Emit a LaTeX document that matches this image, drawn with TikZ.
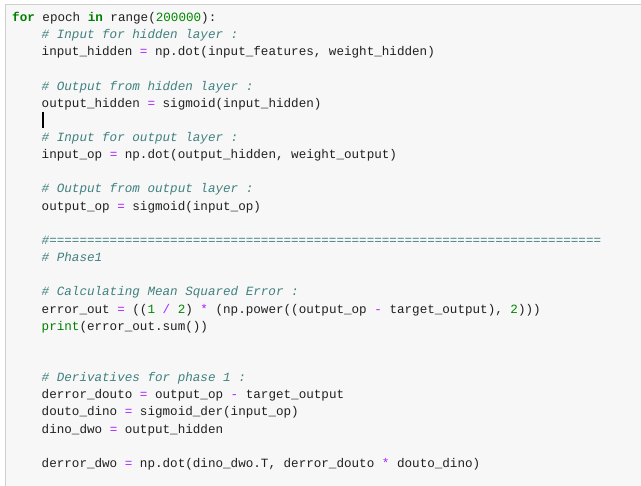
\documentclass[tikz,border=0pt]{standalone}
\usepackage{fontspec}
\setmonofont{Liberation Mono}
\definecolor{kwc}{HTML}{008000}
\definecolor{numc}{HTML}{008800}
\definecolor{opc}{HTML}{AA22FF}
\definecolor{cmc}{HTML}{408080}
\definecolor{bgc}{HTML}{F7F7F7}
\definecolor{bdc}{HTML}{CFCFCF}
\definecolor{txc}{HTML}{202020}
\newcommand{\kw}[1]{\textcolor{kwc}{\bfseries #1}}
\newcommand{\nm}[1]{\textcolor{numc}{#1}}
\newcommand{\op}[1]{\textcolor{opc}{#1}}
\newcommand{\cm}[1]{\textcolor{cmc}{\itshape #1}}
\tikzset{codeline/.style={anchor=base west,inner sep=0pt,font=\ttfamily\fontsize{12.6}{14}\selectfont,text=txc}}
\begin{document}
\begin{tikzpicture}[x=1pt,y=1pt]
\useasboundingbox (0,0) rectangle (641,486);
\fill[bgc] (5,0) rectangle (641,481);
\draw[bdc,line width=1pt] (5,0) -- (5,481) -- (641,481);
\def\Ix{12}\def\Iy{41.5}
\newcommand{\LY}[1]{\pgfmathsetmacro\yy{486-(21.5+(#1-1)*17.15)}}
\LY{1}\node[codeline] (l1) at (\Ix,\yy) {\kw{for} epoch \kw{in} range(\nm{200000}):};
\LY{2}\node[codeline] (l2) at (\Iy,\yy) {\cm{\# Input for hidden layer :}};
\LY{3}\node[codeline] (l3) at (\Iy,\yy) {input\_hidden \op{=} np.dot(input\_features, weight\_hidden)};
\LY{5}\node[codeline] (l5) at (\Iy,\yy) {\cm{\# Output from hidden layer :}};
\LY{6}\node[codeline] (l6) at (\Iy,\yy) {output\_hidden \op{=} sigmoid(input\_hidden)};
\draw[black,line width=1.2pt] (43,374) -- (43,358);
\LY{8}\node[codeline] (l8) at (\Iy,\yy) {\cm{\# Input for output layer :}};
\LY{9}\node[codeline] (l9) at (\Iy,\yy) {input\_op \op{=} np.dot(output\_hidden, weight\_output)};
\LY{11}\node[codeline] (l11) at (\Iy,\yy) {\cm{\# Output from output layer :}};
\LY{12}\node[codeline] (l12) at (\Iy,\yy) {output\_op \op{=} sigmoid(input\_op)};
\LY{14}\node[codeline] (l14) at (\Iy,\yy) {\cm{\#=========================================================================}};
\LY{15}\node[codeline] (l15) at (\Iy,\yy) {\cm{\# Phase1}};
\LY{17}\node[codeline] (l17) at (\Iy,\yy) {\cm{\# Calculating Mean Squared Error :}};
\LY{18}\node[codeline] (l18) at (\Iy,\yy) {error\_out \op{=} ((\nm{1} \op{/} \nm{2}) \op{*} (np.power((output\_op \op{-} target\_output), \nm{2})))};
\LY{19}\node[codeline] (l19) at (\Iy,\yy) {\kw{\mdseries print}(error\_out.sum())};
\LY{22}\node[codeline] (l22) at (\Iy,\yy) {\cm{\# Derivatives for phase 1 :}};
\LY{23}\node[codeline] (l23) at (\Iy,\yy) {derror\_douto \op{=} output\_op \op{-} target\_output};
\LY{24}\node[codeline] (l24) at (\Iy,\yy) {douto\_dino \op{=} sigmoid\_der(input\_op)};
\LY{25}\node[codeline] (l25) at (\Iy,\yy) {dino\_dwo \op{=} output\_hidden};
\LY{27}\node[codeline] (l27) at (\Iy,\yy) {derror\_dwo \op{=} np.dot(dino\_dwo.T, derror\_douto \op{*} douto\_dino)};
\end{tikzpicture}
\end{document}
